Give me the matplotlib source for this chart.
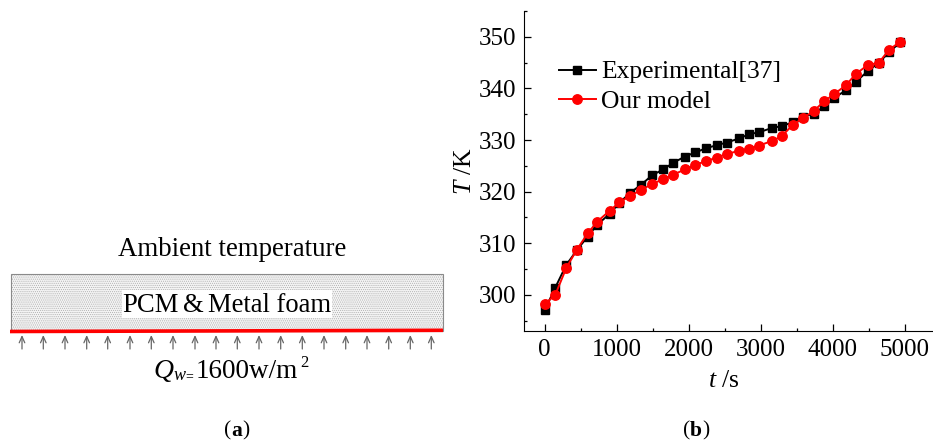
"""Two-panel figure: (a) PCM / metal foam schematic, (b) T vs t validation curve."""

import matplotlib
matplotlib.use("Agg")

import matplotlib.pyplot as plt
from matplotlib.patches import Rectangle
from matplotlib.ticker import MultipleLocator

# values
time_s = [0, 147, 300, 444, 597, 731, 903, 1036, 1189, 1337, 1494, 1647, 1786, 1949, 2092, 2240, 2389,
          2527, 2698, 2837, 2972, 3152, 3290, 3443, 3582, 3735, 3882, 4021, 4183, 4322, 4485, 4642, 4785, 4934]
experimental = [297.0, 301.4, 305.8, 308.6, 311.3, 313.6, 315.7, 317.8, 319.8, 321.3, 323.2, 324.3, 325.6,
                326.8, 327.6, 328.4, 329.0, 329.5, 330.3, 331.1, 331.5, 332.3, 332.7, 333.4, 334.5, 335.1,
                336.5, 338.2, 339.6, 341.3, 343.3, 345.0, 347.0, 348.9]
our_model = [298.2, 300.0, 305.2, 308.7, 311.9, 314.2, 316.3, 317.9, 319.2, 320.3, 321.5, 322.4, 323.3,
             324.3, 325.2, 325.9, 326.6, 327.3, 327.9, 328.3, 328.9, 329.8, 330.7, 332.9, 334.2, 335.6,
             337.5, 338.9, 340.6, 342.8, 344.5, 345.0, 347.5, 349.0]
series_labels = ["Experimental[37]", "Our model"]
x_ticks = [0, 1000, 2000, 3000, 4000, 5000]
y_ticks = [300, 310, 320, 330, 340, 350]

# schematic arrows, pixel x positions of the heat flux marks
arrow_x = [22, 43.3, 65, 86.7, 107.7, 130, 151.3, 173, 195, 216,
           237.3, 259, 280.7, 302.3, 324, 345.7, 367, 388.7, 410.3, 431.3]

W, H = 933, 443
SERIF = ["Liberation Serif", "DejaVu Serif"]


def draw_schematic(fig):
    # overlay in pixel coordinates, y pointing down
    ax = fig.add_axes([0, 0, 1, 1])
    ax.set_xlim(0, W)
    ax.set_ylim(H, 0)
    ax.axis("off")

    plt.rcParams["hatch.linewidth"] = 0.5
    ax.add_patch(Rectangle((11, 274), 432, 57, facecolor="#f4f4f4", edgecolor="#b0b0b0",
                           hatch="........", linewidth=0))
    ax.add_patch(Rectangle((11, 274), 432, 57, fill=False, edgecolor="#8a8a8a", linewidth=0.8))
    ax.add_patch(Rectangle((122, 290), 210, 28, facecolor="white", edgecolor="none"))
    ax.plot([10, 443], [331.5, 330.3], color="#ff0000", linewidth=2.6, solid_capstyle="butt")

    for x in arrow_x:
        ax.annotate("", xy=(x, 335), xytext=(x, 349),
                    arrowprops=dict(arrowstyle="->,head_length=0.45,head_width=0.2",
                                    color="#666666", linewidth=0.9, shrinkA=0, shrinkB=0))

    ax.text(232.5, 249, "Ambient temperature", ha="center", va="center", fontsize=19.4)
    ax.text(122, 305, "PCM", ha="left", va="center", fontsize=19.2)
    ax.text(183.5, 305, "&", ha="left", va="center", fontsize=19.2)
    ax.text(207.5, 305, "Metal foam", ha="left", va="center", fontsize=19.2)

    ax.text(153, 378, "Q", ha="left", va="baseline", fontsize=20, style="italic")
    ax.text(174, 380, "w", ha="left", va="baseline", fontsize=13, style="italic")
    ax.text(185, 380, "=", ha="left", va="baseline", fontsize=10)
    ax.text(196, 378, "1600w/m", ha="left", va="baseline", fontsize=19.5)
    ax.text(300, 367, "2", ha="left", va="baseline", fontsize=12)

    ax.text(231, 431, "(", ha="right", va="center", fontsize=15.5)
    ax.text(231, 431, "a", ha="left", va="center", fontsize=15.5, weight="bold")
    ax.text(242, 431, ")", ha="left", va="center", fontsize=15.5)
    ax.text(690, 431, "(", ha="right", va="center", fontsize=15.5)
    ax.text(690, 431, "b", ha="left", va="center", fontsize=15.5, weight="bold")
    ax.text(702, 431, ")", ha="left", va="center", fontsize=15.5)


def draw_curves(fig):
    left, right, top, bottom = 523.5, 932, 11, 331
    ax = fig.add_axes([left / W, 1 - bottom / H, (right - left) / W, (bottom - top) / H])
    ax.patch.set_alpha(0)

    ax.plot(time_s, experimental, color="black", marker="s", markersize=5.6, linewidth=1.4,
            label=series_labels[0])
    ax.plot(time_s, our_model, color="#ff0000", marker="o", markersize=6.8, linewidth=1.4,
            label=series_labels[1])

    ax.set_xlim(-294, 5380)
    ax.set_ylim(293, 355)
    ax.set_xticks(x_ticks)
    ax.set_yticks(y_ticks)
    ax.xaxis.set_minor_locator(MultipleLocator(500))
    ax.yaxis.set_minor_locator(MultipleLocator(5))
    ax.tick_params(which="major", direction="in", length=5, width=0.9, labelsize=18, pad=5.5)
    ax.tick_params(which="minor", direction="in", length=2.5, width=0.9)
    ax.spines["top"].set_visible(False)
    ax.spines["right"].set_visible(False)

    ax.set_xlabel("$\\mathit{t}$ /s", fontsize=18.5, labelpad=7, x=0.49)
    ax.set_ylabel("$\\mathit{T}$ /K", fontsize=18.5, labelpad=2)

    ax.legend(loc="upper left", bbox_to_anchor=(0.086, 0.845), frameon=False, fontsize=18.4,
              handlelength=1.45, handletextpad=0.22, labelspacing=0.24, borderpad=0, borderaxespad=0)


def main():
    plt.rcParams["font.family"] = SERIF
    plt.rcParams["mathtext.fontset"] = "custom"
    plt.rcParams["mathtext.it"] = "Liberation Serif:italic"
    plt.rcParams["mathtext.rm"] = "Liberation Serif"
    fig = plt.figure(figsize=(W / 100, H / 100), dpi=100)
    draw_schematic(fig)
    draw_curves(fig)
    fig.savefig("out.png", dpi=100)
    plt.close(fig)


if __name__ == "__main__":
    main()
